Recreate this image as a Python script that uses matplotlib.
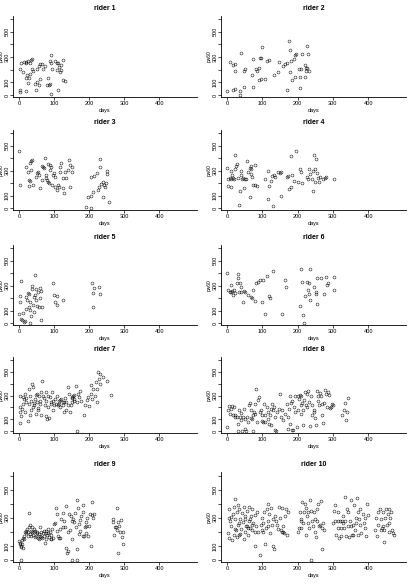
import numpy as np
import matplotlib
matplotlib.use("Agg")
import matplotlib.pyplot as plt

plt.rcParams['font.family'] = ['Liberation Sans Narrow', 'Liberation Sans', 'DejaVu Sans']

# (day, value) pairs, one list per rider
rider1 = [(2, 26), (4, 39), (19, 32), (2, 210), (7, 250), (11, 184), (13, 263), (19, 255), (21, 263),
          (26, 268), (30, 250), (35, 276), (38, 282), (23, 158), (21, 132), (25, 97), (29, 139), (32, 166),
          (36, 210), (40, 192), (45, 87), (48, 39), (51, 105), (57, 79), (59, 124), (52, 203), (56, 229),
          (61, 245), (67, 245), (69, 210), (73, 229), (81, 79), (83, 132), (86, 79), (88, 87), (90, 5),
          (88, 271), (92, 255), (90, 316), (95, 210), (103, 266), (107, 250), (111, 255), (114, 224),
          (116, 184), (112, 39), (119, 237), (124, 276), (126, 118), (121, 197), (109, 197), (132, 113)]

rider2 = [(0, 35), (16, 40), (22, 45), (38, 35), (36, 0), (8, 258), (16, 234), (22, 247), (24, 194),
          (40, 332), (47, 189), (52, 207), (47, 66), (71, 162), (75, 66), (73, 287), (83, 207), (85, 189),
          (90, 120), (92, 215), (94, 295), (99, 380), (97, 295), (97, 128), (108, 128), (113, 269),
          (118, 274), (132, 162), (144, 181), (148, 261), (160, 229), (165, 247), (170, 253), (170, 40),
          (176, 426), (179, 359), (182, 269), (179, 181), (184, 120), (189, 287), (192, 314), (195, 327),
          (192, 146), (205, 207), (210, 207), (206, 56), (207, 146), (212, 322), (222, 234), (222, 146),
          (224, 189), (227, 386), (229, 327), (227, 215), (231, 189), (225, 215)]

rider3 = [(0, 461), (4, 187), (21, 333), (26, 293), (28, 227), (30, 221), (32, 360), (35, 381), (38, 387),
          (33, 307), (40, 187), (48, 253), (59, 160), (65, 339), (68, 328), (71, 320), (74, 400), (76, 267),
          (78, 240), (80, 227), (83, 213), (85, 200), (83, 352), (87, 347), (89, 307), (92, 328), (97, 267),
          (99, 280), (102, 248), (95, 187), (104, 173), (107, 147), (111, 187), (114, 173), (116, 293),
          (118, 333), (121, 360), (124, 240), (126, 160), (128, 125), (132, 293), (135, 240), (140, 307),
          (143, 387), (145, 168), (146, 347), (150, 293), (152, 333), (28, 179), (50, 280), (55, 293),
          (57, 267), (67, 227), (190, 13), (197, 93), (204, 101), (211, 133), (206, 253), (213, 259),
          (221, 285), (226, 147), (229, 173), (230, 392), (232, 333), (235, 195), (238, 213), (240, 93),
          (242, 187), (245, 173), (248, 200), (250, 301), (251, 275), (257, 53), (204, 0)]

rider4 = [(0, 324), (3, 235), (3, 181), (8, 243), (10, 230), (12, 170), (17, 243), (20, 230), (22, 424),
          (22, 311), (26, 338), (29, 351), (31, 243), (33, 27), (36, 135), (39, 262), (41, 297), (42, 230),
          (45, 243), (48, 162), (50, 230), (55, 230), (58, 378), (60, 289), (64, 324), (67, 338), (69, 311),
          (65, 86), (71, 251), (74, 189), (78, 343), (80, 189), (86, 176), (107, 235), (116, 297), (118, 181),
          (116, 73), (126, 216), (127, 257), (130, 14), (133, 262), (137, 251), (144, 289), (149, 278),
          (152, 95), (154, 289), (171, 251), (174, 257), (177, 154), (180, 414), (180, 170), (184, 262),
          (189, 216), (196, 459), (201, 208), (208, 316), (210, 289), (212, 203), (226, 251), (230, 235),
          (232, 316), (235, 270), (240, 230), (243, 297), (243, 135), (246, 424), (248, 316), (250, 208),
          (253, 397), (256, 278), (258, 243), (260, 208), (262, 251), (272, 235), (278, 243), (281, 251),
          (303, 230), (69, 270), (10, 297), (14, 262)]

rider5 = [(0, 77), (4, 172), (7, 336), (4, 219), (7, 36), (10, 22), (13, 8), (16, 16), (11, 82), (19, 117),
          (21, 213), (23, 186), (26, 240), (29, 235), (30, 172), (29, 126), (32, 104), (35, 55), (36, 300),
          (38, 273), (40, 145), (42, 213), (43, 90), (45, 227), (46, 383), (48, 273), (49, 186), (51, 137),
          (54, 246), (57, 126), (59, 281), (61, 199), (64, 254), (63, 27), (67, 131), (97, 322), (99, 227),
          (102, 172), (107, 219), (109, 145), (126, 186), (207, 322), (210, 240), (212, 126), (214, 281),
          (229, 290), (231, 235), (30, 0)]

rider6 = [(0, 403), (3, 264), (8, 250), (10, 306), (12, 250), (14, 258), (17, 222), (20, 264), (22, 242),
          (27, 320), (30, 394), (31, 361), (33, 250), (36, 320), (39, 286), (41, 250), (46, 167), (49, 258),
          (52, 250), (60, 222), (68, 208), (71, 203), (74, 264), (79, 181), (81, 320), (89, 333), (94, 347),
          (98, 167), (103, 347), (108, 75), (113, 375), (118, 214), (122, 203), (129, 417), (155, 75),
          (163, 342), (167, 292), (208, 139), (210, 431), (212, 333), (214, 69), (217, 0), (220, 214),
          (227, 333), (232, 320), (234, 436), (229, 269), (232, 236), (236, 186), (246, 292), (251, 250),
          (253, 236), (255, 153), (255, 361), (265, 361), (275, 231), (280, 369), (284, 306), (287, 325),
          (303, 369), (303, 269)]

rider7 = [(2, 72), (4, 161), (2, 203), (4, 300), (7, 128), (10, 183), (11, 231), (13, 272), (16, 314),
          (16, 161), (19, 250), (21, 278), (26, 83), (29, 356), (30, 300), (32, 133), (35, 258), (37, 397),
          (40, 369), (42, 239), (43, 217), (45, 272), (48, 306), (50, 250), (52, 314), (55, 194), (57, 300),
          (59, 258), (61, 231), (64, 328), (64, 133), (67, 425), (69, 300), (71, 278), (74, 222), (76, 258),
          (78, 128), (80, 106), (83, 203), (85, 111), (88, 286), (90, 244), (92, 231), (95, 328), (97, 258),
          (99, 217), (102, 272), (105, 231), (107, 294), (112, 222), (114, 231), (116, 203), (118, 267),
          (121, 272), (124, 250), (126, 217), (128, 161), (130, 278), (133, 175), (135, 250), (140, 369),
          (143, 314), (145, 161), (147, 222), (150, 286), (152, 278), (154, 300), (156, 258), (158, 272),
          (161, 383), (164, 0), (166, 250), (168, 314), (171, 286), (173, 342), (178, 258), (185, 139),
          (187, 222), (194, 267), (197, 286), (200, 211), (204, 389), (206, 314), (209, 272), (211, 356),
          (216, 300), (219, 417), (221, 250), (223, 356), (226, 500), (229, 439), (230, 397), (232, 480),
          (238, 453), (251, 425), (262, 306), (83, 300), (114, 258), (40, 203), (53, 181), (29, 231),
          (11, 286), (35, 175), (78, 328), (97, 175), (128, 244), (140, 217), (150, 244), (156, 306),
          (48, 147)]

rider8 = [(0, 36), (3, 175), (5, 211), (8, 147), (10, 189), (14, 211), (17, 133), (20, 203), (22, 139),
          (24, 119), (27, 119), (30, 64), (31, 0), (33, 175), (36, 119), (39, 156), (41, 92), (43, 0),
          (45, 119), (48, 189), (50, 22), (52, 106), (55, 0), (58, 119), (60, 78), (63, 217), (64, 239),
          (67, 111), (69, 175), (71, 100), (74, 0), (74, 133), (77, 161), (79, 147), (80, 231), (83, 356),
          (86, 78), (88, 267), (90, 286), (93, 161), (96, 175), (98, 133), (100, 83), (102, 78), (105, 231),
          (107, 78), (109, 133), (112, 203), (115, 161), (117, 106), (119, 64), (121, 133), (124, 189),
          (126, 50), (128, 231), (131, 175), (134, 203), (136, 119), (137, 8), (140, 0), (143, 161),
          (147, 183), (150, 314), (153, 119), (155, 175), (160, 92), (164, 147), (169, 231), (172, 22),
          (174, 119), (175, 183), (178, 64), (181, 239), (183, 8), (185, 258), (188, 8), (190, 203),
          (192, 300), (194, 161), (197, 36), (200, 300), (202, 175), (204, 272), (207, 306), (209, 147),
          (211, 217), (213, 239), (216, 175), (219, 267), (221, 328), (223, 222), (226, 314), (228, 203),
          (230, 342), (233, 244), (235, 44), (238, 300), (240, 139), (242, 217), (245, 161), (247, 175),
          (249, 111), (251, 56), (254, 342), (257, 294), (259, 258), (261, 217), (264, 322), (266, 300),
          (268, 139), (270, 231), (273, 72), (276, 239), (278, 350), (280, 314), (283, 203), (286, 328),
          (288, 306), (292, 194), (295, 203), (297, 231), (299, 222), (325, 133), (330, 175), (333, 239),
          (336, 92), (339, 161), (342, 278), (211, 300), (178, 300), (216, 50)]

rider9 = [(0, 134), (2, 110), (4, 122), (6, 0), (7, 98), (10, 115), (11, 154), (13, 171), (15, 146),
          (8, 139), (5, 90), (11, 85), (16, 195), (19, 188), (21, 202), (23, 220), (26, 195), (29, 334),
          (29, 232), (30, 251), (32, 183), (34, 207), (36, 195), (38, 237), (40, 178), (42, 220), (44, 195),
          (46, 202), (48, 171), (50, 188), (26, 171), (35, 171), (45, 163), (51, 195), (54, 159), (57, 183),
          (59, 232), (61, 171), (64, 195), (67, 154), (69, 188), (71, 171), (73, 122), (76, 207), (78, 188),
          (80, 178), (83, 220), (86, 163), (88, 195), (90, 146), (92, 178), (95, 220), (97, 159), (99, 256),
          (57, 146), (64, 163), (78, 146), (71, 207), (83, 188), (92, 146), (102, 263), (105, 366),
          (107, 324), (109, 207), (111, 171), (114, 154), (116, 220), (118, 159), (121, 293), (124, 334),
          (126, 232), (128, 280), (130, 237), (133, 383), (135, 85), (137, 49), (140, 66), (140, 195),
          (143, 329), (145, 212), (147, 310), (150, 280), (152, 0), (152, 146), (154, 293), (156, 268),
          (159, 334), (162, 237), (164, 427), (166, 80), (166, 0), (168, 366), (171, 256), (173, 285),
          (175, 207), (178, 310), (181, 341), (183, 390), (185, 171), (188, 232), (190, 268), (192, 188),
          (194, 300), (197, 171), (200, 244), (202, 329), (204, 98), (207, 317), (209, 415), (211, 300),
          (213, 324), (192, 244), (183, 171), (171, 183), (267, 268), (268, 293), (270, 178), (273, 237),
          (276, 232), (278, 366), (280, 212), (283, 273), (283, 49), (285, 244), (288, 195), (290, 285),
          (292, 163), (295, 110), (295, 195)]

rider10 = [(3, 188), (5, 300), (7, 363), (9, 275), (12, 238), (14, 138), (16, 325), (19, 375), (22, 288),
           (23, 433), (25, 213), (28, 338), (31, 250), (33, 175), (35, 363), (38, 293), (40, 219), (42, 333),
           (44, 268), (47, 375), (50, 200), (52, 313), (54, 243), (56, 350), (59, 175), (61, 275), (63, 375),
           (66, 225), (69, 313), (70, 213), (72, 363), (75, 263), (78, 100), (80, 318), (82, 238), (85, 338),
           (87, 200), (7, 158), (19, 175), (28, 163), (38, 183), (47, 150), (59, 225), (70, 250), (12, 308),
           (22, 218), (35, 263), (50, 293), (66, 288), (80, 200), (31, 388), (56, 243), (94, 33), (97, 250),
           (99, 300), (100, 213), (103, 263), (106, 338), (108, 113), (110, 225), (113, 363), (115, 400),
           (117, 275), (119, 325), (122, 188), (125, 368), (127, 250), (129, 288), (131, 100), (134, 75),
           (136, 313), (138, 275), (144, 218), (147, 375), (150, 300), (153, 213), (155, 200), (157, 368),
           (160, 238), (162, 193), (164, 313), (166, 363), (169, 175), (172, 338), (103, 200), (115, 238),
           (141, 250), (160, 200), (200, 200), (204, 225), (207, 338), (209, 275), (211, 225), (213, 413),
           (216, 263), (219, 343), (221, 400), (223, 175), (225, 368), (228, 313), (230, 338), (232, 225),
           (235, 425), (238, 0), (239, 350), (241, 275), (244, 238), (247, 338), (249, 200), (251, 163),
           (254, 363), (256, 275), (258, 400), (260, 238), (263, 250), (266, 418), (268, 225), (270, 75),
           (272, 263), (275, 213), (211, 288), (230, 263), (249, 288), (300, 263), (303, 350), (305, 388),
           (307, 275), (310, 175), (313, 275), (315, 338), (317, 158), (319, 275), (322, 225), (324, 168),
           (326, 275), (329, 263), (331, 225), (333, 450), (335, 275), (338, 168), (341, 363), (343, 338),
           (345, 163), (347, 275), (350, 425), (352, 238), (354, 175), (357, 250), (360, 388), (362, 213),
           (364, 300), (366, 263), (369, 438), (371, 175), (373, 293), (376, 250), (378, 363), (380, 188),
           (385, 325), (388, 263), (390, 300), (392, 225), (394, 168), (397, 400), (399, 318), (315, 225),
           (329, 313), (343, 238), (357, 175), (371, 338), (420, 213), (423, 300), (425, 168), (427, 338),
           (429, 250), (432, 363), (435, 213), (437, 288), (439, 225), (441, 338), (444, 125), (446, 213),
           (448, 300), (451, 363), (453, 250), (455, 325), (458, 200), (460, 363), (463, 300), (465, 338),
           (467, 213), (469, 193), (472, 175), (460, 263), (441, 238)]

riders = [rider1, rider2, rider3, rider4, rider5, rider6, rider7, rider8, rider9, rider10]
titles = ["rider %d" % (i + 1) for i in range(10)]
yticks = [0, 100, 200, 300, 400, 500, 600]
ytick_labels = ["0", "100", "", "300", "", "500", ""]
xticks = [0, 100, 200, 300, 400]

W, H = 409, 585
cols = [(13, 197), (221, 406)]
rows = [(16, 97), (130, 210), (245, 325), (357, 433), (472, 562)]

fig = plt.figure(figsize=(W / 100, H / 100), dpi=100)

for i, data in enumerate(riders):
    x0, x1 = cols[i % 2]
    yt, yb = rows[i // 2]
    ax = fig.add_axes([x0 / W, 1 - yb / H, (x1 - x0) / W, (yb - yt) / H])
    d = np.array(data, dtype=float)
    ax.plot(d[:, 0], d[:, 1], 'o', mfc='none', mec='black', ms=2.1, mew=0.35)
    ax.set_xlim(-17, 507)
    ax.set_ylim(-15, 625)
    for s in ['top', 'right']:
        ax.spines[s].set_visible(False)
    for s in ['left', 'bottom']:
        ax.spines[s].set_linewidth(0.6)
    ax.set_xticks(xticks)
    ax.set_yticks(yticks)
    ax.set_yticklabels(ytick_labels, rotation=90, va='center')
    ax.tick_params(length=2, width=0.5, pad=1, labelsize=4)
    ax.tick_params(axis='y', pad=0.5)
    ax.set_title(titles[i], fontsize=5, fontweight='bold', pad=4)
    ax.set_xlabel('days', fontsize=4, labelpad=1)
    ax.set_ylabel('pw60', fontsize=3.5)
    ax.yaxis.set_label_coords(-9.0 / (x1 - x0), 0.5)

fig.savefig('out.png', dpi=100)
